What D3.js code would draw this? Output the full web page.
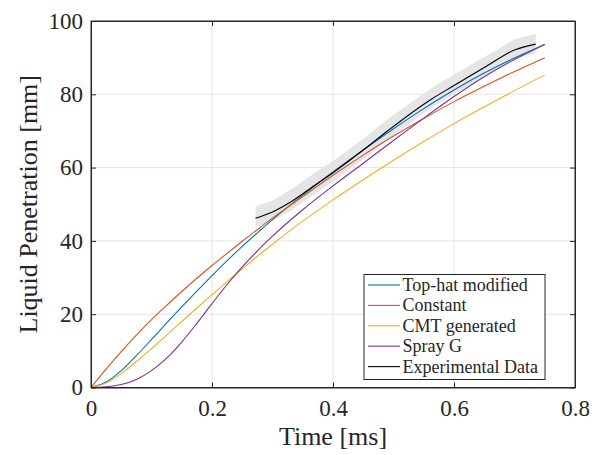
<!DOCTYPE html>
<html>
<head>
<meta charset="utf-8">
<script src="https://cdn.jsdelivr.net/npm/d3@7"></script>
<style>
  body { margin: 0; background: #fff; }
  text { font-family: "Liberation Serif", "Times New Roman", serif; fill: #262626; }
</style>
</head>
<body>
<div id="chart-area"></div>
<script>
// model curves, sampled on a common time grid (ms)
var time = [0, 0.025, 0.05, 0.075, 0.1, 0.125, 0.15, 0.175, 0.2, 0.225, 0.25, 0.275, 0.3, 0.35, 0.4, 0.45, 0.5, 0.55, 0.6, 0.65, 0.7, 0.75];
var topHat   = [0, 1.5, 4.6, 8.7, 13.1, 17.6, 22.0, 26.3, 30.5, 34.6, 38.5, 42.2, 45.8, 52.5, 58.8, 64.8, 70.6, 76.1, 81.2, 85.8, 89.9, 93.6];
var constant = [0, 5.0, 9.8, 14.3, 18.5, 22.4, 26.2, 29.8, 33.3, 36.6, 39.9, 43.1, 46.2, 52.1, 57.9, 63.4, 68.6, 73.4, 78.0, 82.2, 86.2, 90.0];
var cmtGen   = [0, 1.2, 3.8, 7.1, 10.6, 14.3, 18.0, 21.7, 25.3, 28.9, 32.4, 35.8, 39.1, 45.4, 51.2, 56.7, 62.0, 67.1, 72.0, 76.6, 81.0, 85.3];
var sprayG   = [0, 0.2, 0.8, 2.2, 4.6, 8.0, 12.4, 17.5, 22.9, 28.1, 32.9, 37.3, 41.3, 48.5, 55.0, 61.2, 67.4, 73.5, 79.4, 84.8, 89.5, 93.6];

// experimental data with its spread
var expTime  = [0.272, 0.30, 0.33, 0.37, 0.40, 0.45, 0.49, 0.56, 0.60, 0.65, 0.70, 0.735];
var expMean  = [46.2, 47.9, 50.6, 55.2, 58.6, 64.8, 70.0, 78.4, 82.4, 87.3, 92.1, 93.7];
var expUpper = [49.4, 51.0, 54.0, 58.6, 61.8, 67.8, 73.2, 81.4, 85.4, 90.2, 95.0, 96.5];
var expLower = [43.8, 45.5, 48.2, 52.8, 56.2, 62.2, 67.6, 76.0, 80.0, 84.8, 89.6, 91.2];

var seriesNames = ["Top-hat modified", "Constant", "CMT generated", "Spray G", "Experimental Data"];
var seriesColors = ["#0072BD", "#D95319", "#EDB120", "#7E2F8E", "#000000"];

var xTicks = [0, 0.2, 0.4, 0.6, 0.8];
var yTicks = [0, 20, 40, 60, 80, 100];

var margin = {top: 21, right: 28, bottom: 67.5, left: 91};
var W = 603, H = 455;
var width = W - margin.left - margin.right;
var height = H - margin.top - margin.bottom;

var x = d3.scaleLinear().domain([0, 0.8]).range([0, width]);
var y = d3.scaleLinear().domain([0, 100]).range([height, 0]);

var svg = d3.select("#chart-area")
  .append("svg")
  .attr("width", W)
  .attr("height", H);

var g = svg.append("g")
  .attr("transform", "translate(" + margin.left + ", " + margin.top + ")");

// grid
g.append("g")
  .attr("class", "grid")
  .selectAll("line")
  .data(xTicks.slice(1, -1))
  .enter().append("line")
  .attr("x1", d => x(d)).attr("x2", d => x(d))
  .attr("y1", 0).attr("y2", height)
  .attr("stroke", "#e4e4e4").attr("stroke-width", 1);

g.append("g")
  .attr("class", "grid")
  .selectAll("line")
  .data(yTicks.slice(1, -1))
  .enter().append("line")
  .attr("x1", 0).attr("x2", width)
  .attr("y1", d => y(d)).attr("y2", d => y(d))
  .attr("stroke", "#e4e4e4").attr("stroke-width", 1);

// experimental band
var band = expTime.map((t, i) => ({t: t, lo: expLower[i], hi: expUpper[i]}));
g.append("path")
  .datum(band)
  .attr("fill", "#e5e5e5")
  .attr("stroke", "none")
  .attr("d", d3.area().x(d => x(d.t)).y0(d => y(d.lo)).y1(d => y(d.hi)));

// model lines
var line = d3.line().x(d => x(d[0])).y(d => y(d[1])).curve(d3.curveMonotoneX);
var models = [topHat, constant, cmtGen, sprayG];
models.forEach((vals, i) => {
  g.append("path")
    .datum(time.map((t, j) => [t, vals[j]]))
    .attr("fill", "none")
    .attr("stroke", seriesColors[i])
    .attr("stroke-width", 1.1)
    .attr("d", line);
});

g.append("path")
  .datum(expTime.map((t, j) => [t, expMean[j]]))
  .attr("fill", "none")
  .attr("stroke", seriesColors[4])
  .attr("stroke-width", 1.1)
  .attr("d", line);

// axes (ticks inside, box on)
var xAxisCall = d3.axisBottom(x).tickValues(xTicks)
  .tickFormat(d => d === 0 ? "0" : d3.format(".1f")(d))
  .tickSizeInner(-5).tickSizeOuter(0).tickPadding(12.5);
var yAxisCall = d3.axisLeft(y).tickValues(yTicks)
  .tickFormat(d3.format("d"))
  .tickSizeInner(-5).tickSizeOuter(0).tickPadding(8);

var xAxisGroup = g.append("g")
  .attr("transform", "translate(0, " + height + ")")
  .call(xAxisCall);
var yAxisGroup = g.append("g").call(yAxisCall);

g.append("g")
  .call(d3.axisTop(x).tickValues(xTicks).tickFormat("").tickSizeInner(-5).tickSizeOuter(0));
g.append("g")
  .attr("transform", "translate(" + width + ", 0)")
  .call(d3.axisRight(y).tickValues(yTicks).tickFormat("").tickSizeInner(-5).tickSizeOuter(0));

g.selectAll(".domain").attr("stroke", "#262626");
g.selectAll(".tick line").attr("stroke", "#262626");
g.selectAll(".tick text")
  .attr("font-family", "Liberation Serif, serif")
  .attr("font-size", "23px")
  .attr("fill", "#262626");

g.append("rect")
  .attr("width", width).attr("height", height)
  .attr("fill", "none")
  .attr("stroke", "#262626")
  .attr("stroke-width", 1);

// axis labels
g.append("text")
  .attr("x", width / 2)
  .attr("y", height + 57)
  .attr("font-size", "26px")
  .attr("text-anchor", "middle")
  .text("Time [ms]");

g.append("text")
  .attr("x", -height / 2)
  .attr("y", -54)
  .attr("font-size", "26px")
  .attr("text-anchor", "middle")
  .attr("transform", "rotate(-90)")
  .text("Liquid Penetration [mm]");

// legend
var legend = g.append("g")
  .attr("transform", "translate(" + (364 - margin.left) + ", " + (274.5 - margin.top) + ")");

legend.append("rect")
  .attr("width", 181).attr("height", 105)
  .attr("fill", "#fff")
  .attr("stroke", "#262626")
  .attr("stroke-width", 1);

var rows = legend.selectAll("g.row")
  .data(seriesNames)
  .enter().append("g")
  .attr("transform", (d, i) => "translate(0, " + (10.5 + i * 20.4) + ")");

rows.append("line")
  .attr("x1", 4).attr("x2", 36)
  .attr("y1", 0).attr("y2", 0)
  .attr("stroke", (d, i) => seriesColors[i])
  .attr("stroke-width", 1.1);

rows.append("text")
  .attr("x", 38.5)
  .attr("y", 6)
  .attr("font-size", "18px")
  .text(d => d);
</script>
</body>
</html>
